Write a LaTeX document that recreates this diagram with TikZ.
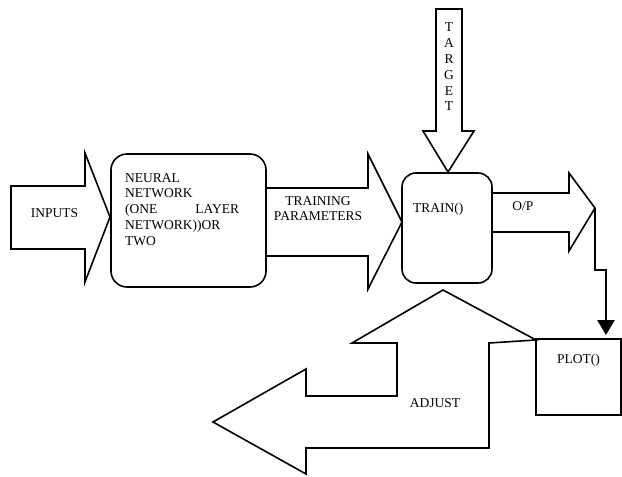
\documentclass[tikz,border=0pt]{standalone}
\usepackage{fontspec}
\setmainfont{Liberation Serif}
\usetikzlibrary{arrows.meta}
\begin{document}
\begin{tikzpicture}[x=1pt,y=-1pt,
  outline/.style={draw=black,line width=1.6pt,line join=miter},
  roundbox/.style={draw=black,line width=1.6pt,rounded corners=16pt,inner sep=0pt},
  plainbox/.style={draw=black,line width=1.6pt,inner sep=0pt},
  label/.style={font=\fontsize{13.5}{15.8}\selectfont,inner sep=0pt},
  conn/.style={draw=black,line width=2.6pt,-{Triangle[width=17pt,length=15pt]}}]
\useasboundingbox (0,0) rectangle (622,477);

% block arrows
\draw[outline] (11,186) -- (85,186) -- (85,153) -- (110,217) -- (85,282) -- (85,249) -- (11,249) -- cycle;
\draw[outline] (266,188) -- (368,188) -- (368,154) -- (402,222) -- (368,289) -- (368,256) -- (266,256);
\draw[outline] (436,9) -- (462,9) -- (462,131) -- (474,131) -- (448,172) -- (423,131) -- (436,131) -- cycle;
\draw[outline] (492,193) -- (569,193) -- (569,173) -- (595,208) -- (569,251) -- (569,232) -- (492,232);
\draw[outline] (443,290) -- (536,340) -- (489,343) -- (489,448) -- (306,448) -- (306,474)
  -- (213,422) -- (306,369) -- (306,396) -- (397,396) -- (397,343) -- (352,343) -- cycle;

% boxes
\node[roundbox,minimum width=155pt,minimum height=133pt] (nn) at (188.5,220.5) {};
\node[roundbox,rounded corners=14pt,minimum width=90pt,minimum height=110pt] (train) at (447,228) {};
\node[plainbox,minimum width=85pt,minimum height=76pt] (plot) at (578.5,377) {};

% texts
\node[label] (inputs) at (54.5,213) {INPUTS};
\node[label,anchor=north west,align=left] (nntext) at (125,173)
  {NEURAL\\NETWORK\\\makebox[114pt][s]{(ONE LAYER}\\NETWORK))OR\\TWO};
\node[label,align=center] (params) at (318,208.5) {TRAINING\\PARAMETERS};
\node[label,align=center] (target) at (449,67) {T\\A\\R\\G\\E\\T};
\node[label,anchor=west] (traintext) at (413,209) {TRAIN()};
\node[label] (op) at (523,206) {O/P};
\node[label] (plottext) at (578.5,360) {PLOT()};
\node[label] (adjust) at (435,403) {ADJUST};

% connector from the output arrow to the plot box
\coordinate (optip) at (595,208);
\coordinate (plotin) at (606,335);
\draw[conn] (optip) -- (595,270) -| (plotin);
\end{tikzpicture}
\end{document}
